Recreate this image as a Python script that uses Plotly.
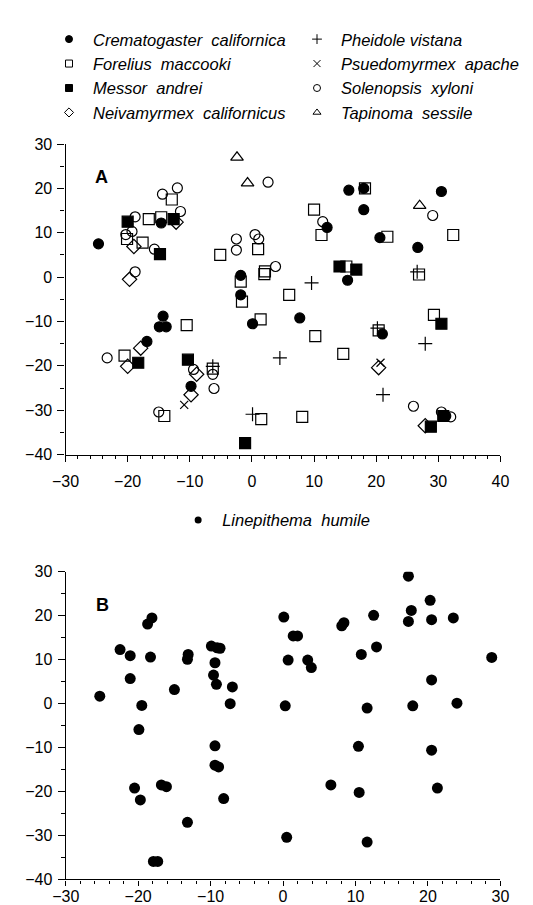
import plotly.graph_objects as go

# ---------------- data: panel A (native ants) ----------------
crem_x = [-24.7, -14.6, 15.6, 18.0, 30.5, 18.0, 12.1, 20.6, 26.7, 15.4, -1.8, -1.8,
          -14.3, -14.9, -13.8, 0.1, -16.9, -9.8, 7.7, 21.0, 31.2]
crem_y = [7.5, 12.2, 19.6, 20.0, 19.3, 15.2, 11.2, 8.9, 6.7, -0.7, 0.4, -4.0,
          -8.8, -11.2, -11.2, -10.5, -14.5, -24.6, -9.2, -12.8, -31.3]

fore_x = [-20.1, -16.6, -14.6, -12.9, -17.6, -5.1, 1.0, 2.0, 2.1, -1.8, -1.6, 18.2,
          10.0, 11.2, 21.8, 32.4, 15.2, 26.9, 6.0, 29.3, -10.5, 1.4, -20.5, -6.3,
          -14.1, 1.5, 10.2, 14.7, 8.1, 20.4]
fore_y = [8.6, 13.1, 13.5, 17.5, 7.8, 5.0, 6.3, 0.7, 1.3, -1.0, -5.5, 20.0,
          15.2, 9.5, 9.1, 9.5, 2.4, 0.6, -4.0, -8.5, -10.8, -9.5, -17.7, -20.6,
          -31.3, -32.0, -13.3, -17.3, -31.5, -12.0]

mess_x = [-20.0, -12.6, -14.8, 14.1, 16.8, -18.3, -10.3, -1.1, 30.5, 30.8, 28.8]
mess_y = [12.5, 13.1, 5.2, 2.4, 1.7, -19.3, -18.6, -37.4, -10.5, -31.3, -33.7]

neiv_x = [-19.0, -19.7, -12.2, -20.0, 27.9, -17.9, -8.9, -9.8, 20.4]
neiv_y = [6.9, -0.5, 12.4, -20.1, -33.5, -16.0, -21.9, -26.5, -20.4]

phei_x = [9.6, 26.6, 4.5, -6.3, 0.1, 27.9, 21.1, 20.2]
phei_y = [-1.3, 1.2, -18.2, -20.1, -30.9, -15.0, -26.5, -11.5]

psue_x = [-10.9, 20.7]
psue_y = [-28.8, -19.3]

sole_x = [2.6, -12.0, -14.4, -11.5, -18.8, -20.3, -19.3, -15.7, -18.8, -2.5, -2.5,
          0.5, 1.1, 3.8, 29.1, 11.4, -23.3, -9.4, -6.3, -6.1, 26.0, 30.5, 32.0, -15.0]
sole_y = [21.4, 20.1, 18.7, 14.8, 13.6, 9.6, 10.3, 6.3, 1.2, 8.6, 6.1,
          9.6, 8.6, 2.4, 13.9, 12.5, -18.2, -20.8, -21.9, -25.1, -29.1, -30.4, -31.5, -30.4]

tapi_x = [-2.4, -0.7, 27.0]
tapi_y = [27.0, 21.2, 16.1]

# ---------------- data: panel B (Linepithema humile) ----------------
line_x = [-25.3, -22.5, -21.1, -21.1, -19.5, -18.7, -18.1, -18.3, -15.0, -13.1, -13.2,
          -9.9, -9.1, -8.7, -9.4, -9.6, -9.2, -7.0, -7.3, 0.1, 1.4, 2.0, 0.7, 3.4,
          3.9, 8.4, 8.1, 12.5, 10.8, 12.9, 17.3, 20.3, 17.7, 17.3, 20.5, 23.5, 28.8,
          20.5, 0.3, 11.6, 17.9, 24.0, -19.9, -9.4, -9.4, -8.9, -20.5, -19.7, -16.8,
          -16.1, -8.2, -13.2, -17.9, -17.3, 10.4, 20.5, 6.6, 10.5, 21.3, 0.5, 11.6]
line_y = [1.7, 12.3, 10.9, 5.7, -0.4, 18.1, 19.5, 10.6, 3.2, 11.2, 10.1,
          13.1, 12.7, 12.6, 9.3, 6.5, 4.4, 3.8, 0.0, 19.7, 15.4, 15.4, 9.9, 9.9,
          8.2, 18.4, 17.7, 20.1, 11.2, 12.9, 29.0, 23.5, 21.2, 18.7, 19.1, 19.5, 10.5,
          5.4, -0.5, -1.0, -0.5, 0.1, -5.9, -9.6, -14.0, -14.4, -19.2, -21.9, -18.5,
          -18.9, -21.6, -27.0, -35.9, -35.9, -9.7, -10.6, -18.5, -20.2, -19.2, -30.4, -31.5]

x_ticks_A = [-30, -20, -10, 0, 10, 20, 30, 40]
x_ticks_B = [-30, -20, -10, 0, 10, 20, 30]
y_ticks = [-40, -30, -20, -10, 0, 10, 20, 30]

W, H = 533, 905
FONT = "Liberation Sans"
LEG_SIZE = 16.5

species = [
    # name, x, y, symbol, size, legend rank
    ("Forelius\u00a0\u00a0maccooki", fore_x, fore_y, "square-open", 11, 3),
    ("Solenopsis\u00a0\u00a0xyloni", sole_x, sole_y, "circle-open", 10, 6),
    ("Neivamyrmex\u00a0\u00a0californicus", neiv_x, neiv_y, "diamond-open", 11, 7),
    ("Tapinoma\u00a0\u00a0sessile", tapi_x, tapi_y, "triangle-up-open", 11, 8),
    ("Messor\u00a0\u00a0andrei", mess_x, mess_y, "square", 11, 5),
    ("Crematogaster\u00a0\u00a0californica", crem_x, crem_y, "circle", 10, 1),
    ("Pheidole vistana", phei_x, phei_y, "cross-thin-open", 10, 2),
    ("Psuedomyrmex\u00a0\u00a0apache", psue_x, psue_y, "x-thin-open", 8, 4),
]

fig = go.Figure()

for name, xs, ys, sym, sz, rank in species:
    fig.add_trace(go.Scatter(
        x=xs, y=ys, mode="markers", xaxis="x", yaxis="y", showlegend=False,
        marker=dict(symbol=sym, size=sz, color="black", line=dict(width=1.2, color="black")),
        hoverinfo="skip", name=name))
    # legend entry (smaller symbol as in the original key)
    fig.add_trace(go.Scatter(
        x=[None], y=[None], mode="markers", xaxis="x", yaxis="y", showlegend=True,
        legend="legend", legendrank=rank, name=name,
        marker=dict(symbol=sym, size=7, color="black", line=dict(width=1, color="black"))))

fig.add_trace(go.Scatter(
    x=line_x, y=line_y, mode="markers", xaxis="x2", yaxis="y2", showlegend=False,
    marker=dict(symbol="circle", size=11, color="black", line=dict(width=0)),
    hoverinfo="skip", name="Linepithema humile"))
fig.add_trace(go.Scatter(
    x=[None], y=[None], mode="markers", xaxis="x2", yaxis="y2", showlegend=True,
    legend="legend2", name="Linepithema\u00a0\u00a0humile",
    marker=dict(symbol="circle", size=7, color="black")))

axis_common = dict(
    showline=True, linecolor="black", linewidth=1.3, mirror=False,
    ticks="outside", tickwidth=1.2, tickcolor="black",
    showgrid=False, zeroline=False,
    tickfont=dict(family=FONT, size=16, color="black"),
)

fig.update_layout(
    width=W, height=H,
    margin=dict(l=0, r=0, t=0, b=0),
    paper_bgcolor="white", plot_bgcolor="white",
    xaxis=dict(domain=[45.5 / W, 500 / W], range=[-30, 40], anchor="y",
               tickvals=x_ticks_A, ticklen=6, ticklabelstandoff=6,
               minor=dict(dtick=2, ticks="outside", ticklen=3, tickcolor="black"),
               **axis_common),
    yaxis=dict(domain=[1 - 447 / H, 1 - 130.5 / H], range=[-40, 30], anchor="x",
               tickvals=y_ticks, ticklen=7, ticklabelstandoff=2,
               minor=dict(dtick=5, ticks="outside", ticklen=4, tickcolor="black"),
               **axis_common),
    xaxis2=dict(domain=[45.7 / W, 500 / W], range=[-30, 30], anchor="y2",
                tickvals=x_ticks_B, ticklen=5, ticklabelstandoff=-3,
                minor=dict(dtick=2, ticks="outside", ticklen=3, tickcolor="black"),
                **axis_common),
    yaxis2=dict(domain=[1 - 880 / H, 1 - 566.4 / H], range=[-40, 30], anchor="x2",
                tickvals=y_ticks, ticklen=7, ticklabelstandoff=2,
                minor=dict(dtick=5, ticks="outside", ticklen=4, tickcolor="black"),
                **axis_common),
    legend=dict(orientation="h", x=37 / W, xanchor="left", y=1 - 6 / H, yanchor="top",
                entrywidth=195, entrywidthmode="pixels", itemwidth=38,
                font=dict(family=FONT, size=LEG_SIZE, style="italic", color="black"),
                bgcolor="rgba(0,0,0,0)", borderwidth=0, traceorder="normal"),
    legend2=dict(orientation="h", x=159 / W, xanchor="left", y=1 - 496 / H, yanchor="top",
                 itemwidth=38,
                 font=dict(family=FONT, size=LEG_SIZE, style="italic", color="black"),
                 bgcolor="rgba(0,0,0,0)", borderwidth=0),
    annotations=[
        dict(text="<b>A</b>", xref="x domain", yref="y domain", x=0.063, y=0.932,
             showarrow=False, font=dict(family=FONT, size=18, color="black")),
        dict(text="<b>B</b>", xref="x2 domain", yref="y2 domain", x=0.064, y=0.93,
             showarrow=False, font=dict(family=FONT, size=18, color="black")),
    ],
)

fig.write_html("out.html")
